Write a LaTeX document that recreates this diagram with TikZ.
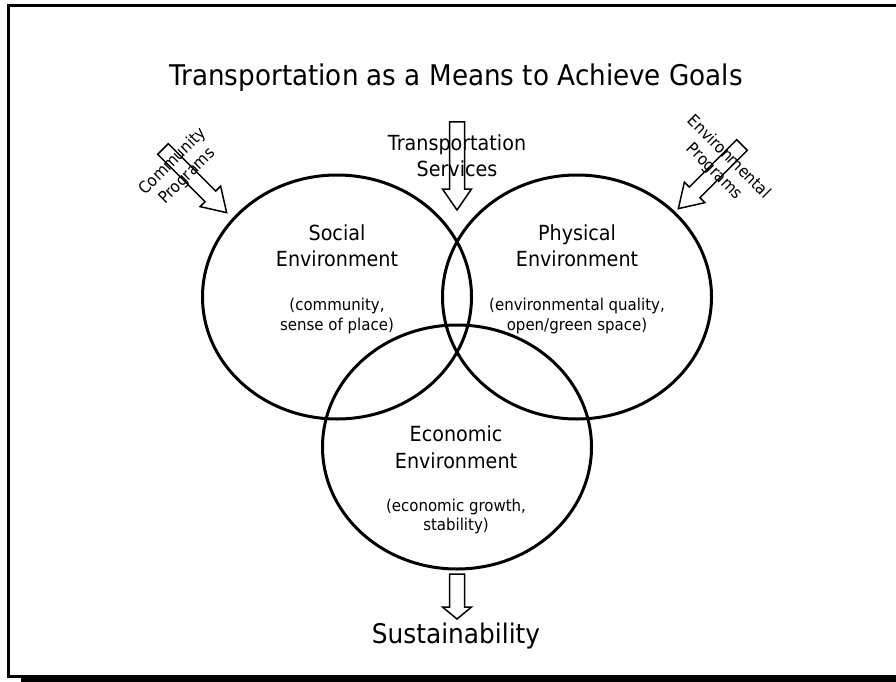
\documentclass[tikz,border=0pt]{standalone}
\usepackage{fontspec}
\setmainfont{DejaVu Sans}[FakeStretch=0.92]
\usetikzlibrary{shapes.geometric}
\begin{document}
\begin{tikzpicture}[x=1pt,y=-1pt,
  ellip/.style={ellipse,draw,line width=3pt,minimum width=269pt,minimum height=244pt,inner sep=0pt},
  arrowline/.style={draw,line width=1.5pt,line join=miter},
  titletxt/.style={font=\fontsize{28.5}{32}\selectfont,anchor=base,inner sep=0pt},
  susttxt/.style={font=\fontsize{27}{32}\selectfont,anchor=base,inner sep=0pt},
  maintxt/.style={font=\fontsize{20.8}{24}\selectfont,anchor=base,inner sep=0pt},
  smalltxt/.style={font=\fontsize{16.3}{18}\selectfont,anchor=base,inner sep=0pt},
  sidetxt/.style={font=\fontsize{16.4}{20.5}\selectfont,align=center,inner sep=0pt},
  pics/barrow/.style 2 args={code={
    \path[arrowline] (0,-7.5) -- (#1-#2,-7.5) -- (#1-#2,-14.5) -- (#1,0)
      -- (#1-#2,14.5) -- (#1-#2,7.5) -- (0,7.5) -- cycle;}}
]
\useasboundingbox (0,0) rectangle (896,682);
\clip (0,0) rectangle (896,682);
% frame with shadow
\fill[black] (21,18) rectangle (915,695);
\draw[line width=3pt,fill=white] (8.5,5.5) rectangle (905,676.5);

% ellipses
\node[ellip] (social) at (337,297) {};
\node[ellip] (physical) at (577,297) {};
\node[ellip] (economic) at (457,447) {};

% block arrows
\pic[rotate=-90] (transarrow) at (457,122) {barrow={88}{21}};
\pic[rotate=-90] (sustarrow) at (457,574) {barrow={45}{12}};
\pic[rotate=-45] (commarrow) at (163,149) {barrow={90}{23}};
\pic[rotate=-135] (envarrow) at (742,145) {barrow={90}{23}};

% texts
\node[titletxt] (title) at (456,86) {Transportation as a Means to Achieve Goals};
\node[maintxt] (trans1) at (457,150) {Transportation};
\node[maintxt] (trans2) at (457,176) {Services};

\node[maintxt] (soc1) at (337,240) {Social};
\node[maintxt] (soc2) at (337,266) {Environment};
\node[smalltxt] (soc3) at (337,310) {(community,};
\node[smalltxt] (soc4) at (337,330) {sense of place)};

\node[maintxt] (phy1) at (577,240) {Physical};
\node[maintxt] (phy2) at (577,266) {Environment};
\node[smalltxt] (phy3) at (577,310) {(environmental quality,};
\node[smalltxt] (phy4) at (577,330) {open/green space)};

\node[maintxt] (eco1) at (456,441) {Economic};
\node[maintxt] (eco2) at (456,468) {Environment};
\node[smalltxt] (eco3) at (456,511) {(economic growth,};
\node[smalltxt] (eco4) at (456,530.5) {stability)};

\node[sidetxt,rotate=45] (commtxt) at (180,169) {Community\\Programs};
\node[sidetxt,rotate=-45] (envtxt) at (721.5,164.5) {Environmental\\Programs};

\node[susttxt] (sust) at (456,643) {Sustainability};
\end{tikzpicture}
\end{document}
